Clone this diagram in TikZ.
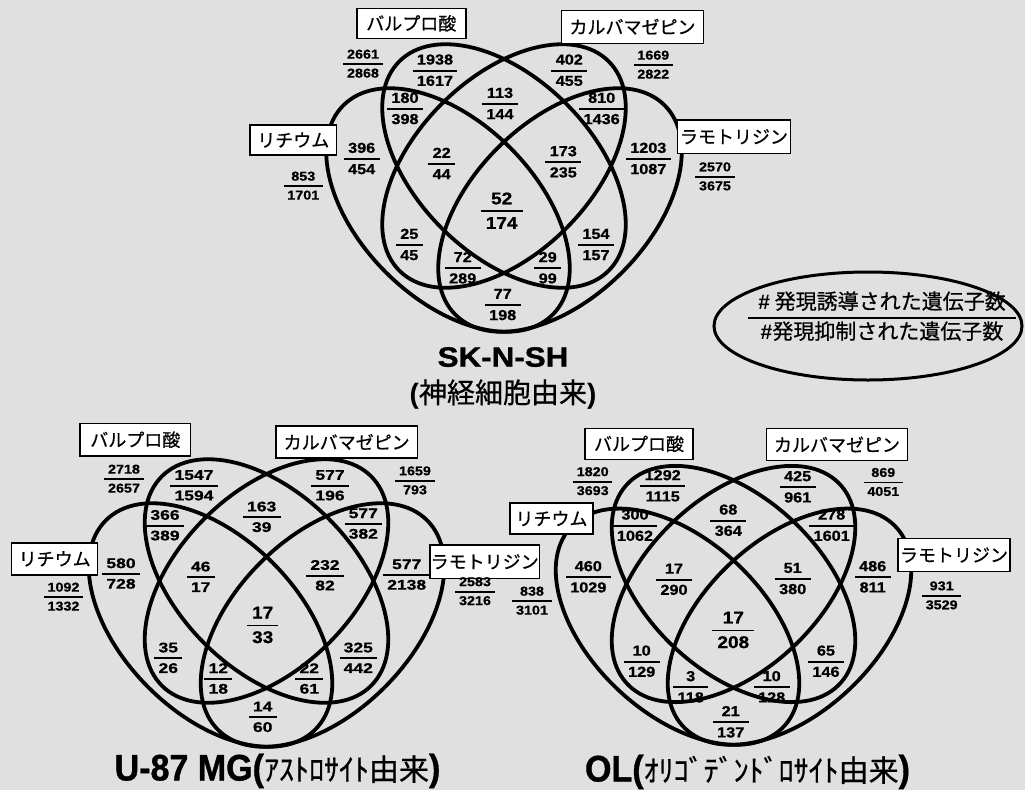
\documentclass[tikz,border=0pt]{standalone}
\usepackage{fontspec}
\setmainfont{Liberation Sans}
\newfontfamily\numf{Liberation Sans}[FakeStretch=1.12,FakeBold=0.8]
\newfontfamily\numw{Liberation Sans}[FakeStretch=1.25,FakeBold=0.8]
\newfontfamily\jpf{Noto Sans CJK JP}
\newfontfamily\jpb{Noto Sans CJK JP}[FakeBold=0.6]
\newfontfamily\ttlf{Liberation Sans}[FakeStretch=1.12,FakeBold=1.2]
\newfontfamily\ttlb{Liberation Sans}[FakeStretch=0.92,FakeBold=1]
\setlength{\arrayrulewidth}{1.8pt}
\newcommand{\fr}[2]{\begin{tabular}{@{\hspace{0.3em}}c@{\hspace{0.3em}}}#1\\\hline\rule{0pt}{0.98em}#2\end{tabular}}
\newcommand{\fourell}[3]{%
  \begin{scope}[shift={(#1,#2)},yscale=#3]
    \draw[ell,rotate around={-45:(-56,44)}] (-56,44) ellipse [x radius=148pt, y radius=88pt];
    \draw[ell,rotate around={-45:(0,0)}] (0,0) ellipse [x radius=148pt, y radius=88pt];
    \draw[ell,rotate around={45:(0,0)}] (0,0) ellipse [x radius=148pt, y radius=88pt];
    \draw[ell,rotate around={45:(56,44)}] (56,44) ellipse [x radius=148pt, y radius=88pt];
  \end{scope}}
\tikzset{
  ell/.style={line width=3.8pt},
  lbl/.style={draw, line width=1.4pt, fill=white, inner sep=0pt, font=\jpb\fontsize{18}{21}\selectfont},
  num/.style={inner sep=0pt, font=\numf\bfseries\fontsize{14.5}{17.4}\selectfont},
  numU/.style={inner sep=0pt, font=\numw\bfseries\fontsize{14}{16.8}\selectfont},
  onum/.style={inner sep=0pt, font=\numf\bfseries\fontsize{12.8}{15.4}\selectfont},
  cnum/.style={inner sep=0pt, font=\numf\bfseries\fontsize{17}{20.4}\selectfont},
}
\begin{document}
\begin{tikzpicture}[x=1pt,y=-1pt]
\useasboundingbox (0,0) rectangle (1025,790);
\fill[black!12] (0,0) rectangle (1025,790);

% ---------- ellipses ----------
\fourell{504}{166}{1}
\fourell{266.5}{581}{1}
\fourell{733.5}{584}{0.97}

% ---------- legend ----------
\draw[line width=3pt] (868,326) ellipse [x radius=154pt, y radius=54pt];
\node[inner sep=0pt, font=\jpb\fontsize{21}{25}\selectfont] (lg) at (882,319)
 {\setlength{\arrayrulewidth}{2.5pt}\begin{tabular}{@{\hspace{10pt}}c@{\hspace{10pt}}}{\normalfont\bfseries\#} 発現誘導された遺伝子数\\\hline\rule{0pt}{0.95em}{\normalfont\bfseries\#}発現抑制された遺伝子数\end{tabular}};

% ---------- SK-N-SH ----------
\node[lbl, minimum width=109pt, minimum height=30pt] (t-vpa) at (411.3,23.3) {バルプロ酸};
\node[lbl, minimum width=141.7pt, minimum height=33pt] (t-cbz) at (632.5,26.7) {カルバマゼピン};
\node[lbl, minimum width=86.7pt, minimum height=30pt] (t-li) at (293.3,140) {リチウム};
\node[lbl, minimum width=113.3pt, minimum height=33.3pt] (t-lam) at (734,136.7) {ラモトリジン};

\node[num] (t1) at (435,71.7) {\fr{1938}{1617}};
\node[num] (t2) at (569.3,71.7) {\fr{402}{455}};
\node[num] (t3) at (405,110) {\fr{180}{398}};
\node[num] (t4) at (500,105) {\fr{113}{144}};
\node[num] (t5) at (601.7,110) {\fr{810}{1436}};
\node[num] (t6) at (361.7,160) {\fr{396}{454}};
\node[num] (t7) at (441.7,165) {\fr{22}{44}};
\node[num] (t8) at (563.3,163.3) {\fr{173}{235}};
\node[num] (t9) at (648.3,160) {\fr{1203}{1087}};
\node[num] (t10) at (409.3,246) {\fr{25}{45}};
\node[num] (t11) at (596,246) {\fr{154}{157}};
\node[num] (t12) at (462.7,269.3) {\fr{72}{289}};
\node[num] (t13) at (547.7,269.3) {\fr{29}{99}};
\node[num] (t14) at (502.7,306) {\fr{77}{198}};
\node[cnum] (t15) at (501.7,212.5) {\fr{52}{174}};
\node[onum] (t16) at (363,65) {\fr{2661}{2868}};
\node[onum] (t17) at (653.3,66) {\fr{1669}{2822}};
\node[onum] (t18) at (303.3,187) {\fr{853}{1701}};
\node[onum] (t19) at (715,177.7) {\fr{2570}{3675}};

\node[anchor=base, inner sep=0pt, font=\ttlf\bfseries\fontsize{28}{30}\selectfont] (t-title) at (503,366.7) {SK-N-SH};
\node[anchor=base, inner sep=0pt, font=\fontsize{28}{30}\selectfont] (t-sub) at (503,403) {\textbf{(}{\jpb 神経細胞由来}\textbf{)}};

% ---------- U-87 MG ----------
\node[lbl, minimum width=110.7pt, minimum height=32.7pt] (u-vpa) at (135.3,439.7) {バルプロ酸};
\node[lbl, minimum width=141.3pt, minimum height=32.3pt] (u-cbz) at (346.7,442) {カルバマゼピン};
\node[lbl, minimum width=86pt, minimum height=32pt] (u-li) at (54.7,558.8) {リチウム};
\node[lbl, minimum width=109.3pt, minimum height=33.3pt] (u-lam) at (484.7,561.7) {ラモトリジン};

\node[numU] (u1) at (194,486.7) {\fr{1547}{1594}};
\node[numU] (u2) at (330,486.7) {\fr{577}{196}};
\node[numU] (u3) at (165,526.7) {\fr{366}{389}};
\node[numU] (u4) at (261.7,518.3) {\fr{163}{39}};
\node[numU] (u5) at (363.3,525) {\fr{577}{382}};
\node[numU] (u6) at (121,575) {\fr{580}{728}};
\node[numU] (u7) at (200.7,578.3) {\fr{46}{17}};
\node[numU] (u8) at (325,576.7) {\fr{232}{82}};
\node[numU] (u9) at (406.7,576) {\fr{577}{2138}};
\node[numU] (u10) at (168.3,659.3) {\fr{35}{26}};
\node[numU] (u11) at (358.3,659.3) {\fr{325}{442}};
\node[numU] (u12) at (218.3,680) {\fr{12}{18}};
\node[numU] (u13) at (309.3,680) {\fr{22}{61}};
\node[numU] (u14) at (262.7,718.3) {\fr{14}{60}};
\node[cnum] (u15) at (262.7,626.7) {\fr{17}{33}};
\node[onum] (u16) at (124,480) {\fr{2718}{2657}};
\node[onum] (u17) at (415,481.7) {\fr{1659}{793}};
\node[onum] (u18) at (63.5,598) {\fr{1092}{1332}};
\node[onum] (u19) at (475,592.5) {\fr{2583}{3216}};

\node[anchor=base, inner sep=0pt] (u-title) at (277.5,780.5) {{\ttlb\bfseries\fontsize{37}{39}\selectfont U-87 MG(}{\jpb\fontsize{30}{32}\selectfont ｱｽﾄﾛｻｲﾄ由来}{\ttlb\bfseries\fontsize{37}{39}\selectfont )}};

% ---------- OL ----------
\node[lbl, minimum width=108.3pt, minimum height=31pt] (o-vpa) at (639,443.8) {バルプロ酸};
\node[lbl, minimum width=140.7pt, minimum height=32.4pt] (o-cbz) at (837,444.5) {カルバマゼピン};
\node[lbl, minimum width=83pt, minimum height=31pt] (o-li) at (551.5,518.5) {リチウム};
\node[lbl, minimum width=111.7pt, minimum height=33pt] (o-lam) at (954,555) {ラモトリジン};

\node[num] (o1) at (662.7,487.3) {\fr{1292}{1115}};
\node[num] (o2) at (797.7,488.3) {\fr{425}{961}};
\node[num] (o3) at (635,526.7) {\fr{300}{1062}};
\node[num] (o4) at (728.3,521.7) {\fr{68}{364}};
\node[num] (o5) at (831.7,526.7) {\fr{278}{1601}};
\node[num] (o6) at (588.3,578.3) {\fr{460}{1029}};
\node[num] (o7) at (674,580.7) {\fr{17}{290}};
\node[num] (o8) at (792.7,580) {\fr{51}{380}};
\node[num] (o9) at (872.7,578.3) {\fr{486}{811}};
\node[num] (o10) at (641.7,662.7) {\fr{10}{129}};
\node[num] (o11) at (826,662.7) {\fr{65}{146}};
\node[num] (o12) at (690.7,688.3) {\fr{3}{118}};
\node[num] (o13) at (771.7,688.3) {\fr{10}{128}};
\node[num] (o14) at (730.7,723.3) {\fr{21}{137}};
\node[cnum] (o15) at (733.3,631.7) {\fr{17}{208}};
\node[onum] (o16) at (592.7,482.5) {\fr{1820}{3693}};
\node[onum] (o17) at (883.3,483.3) {\fr{869}{4051}};
\node[onum] (o18) at (532,602) {\fr{838}{3101}};
\node[onum] (o19) at (941.7,596.7) {\fr{931}{3529}};

\node[anchor=base, inner sep=0pt] (o-title) at (747.5,781.5) {{\ttlb\bfseries\fontsize{37}{39}\selectfont OL(}{\jpb\fontsize{30}{32}\selectfont ｵﾘｺﾞﾃﾞﾝﾄﾞﾛｻｲﾄ由来}{\ttlb\bfseries\fontsize{37}{39}\selectfont )}};
\end{tikzpicture}
\end{document}
